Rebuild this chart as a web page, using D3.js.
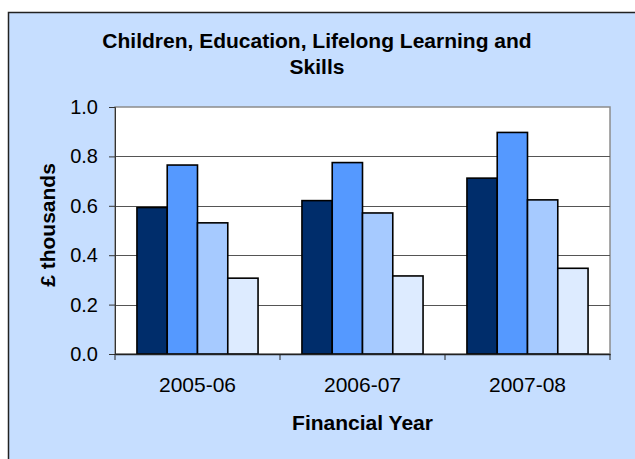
<!DOCTYPE html>
<html>
<head>
<meta charset="utf-8">
<script src="https://cdn.jsdelivr.net/npm/d3@7"></script>
<style>
    body { margin: 0; background: #ffffff; }
    text { font-family: "Liberation Sans", Arial, sans-serif; fill: #000; }
</style>
</head>
<body>
<svg class="barChart" width="635" height="459"></svg>
<script>
var years = ["2005-06", "2006-07", "2007-08"];
var seriesNames = ["s1", "s2", "s3", "s4"];
var s1 = [0.593, 0.621, 0.712];
var s2 = [0.765, 0.775, 0.897];
var s3 = [0.531, 0.571, 0.624];
var s4 = [0.307, 0.316, 0.347];
var yTicks = [0, 0.2, 0.4, 0.6, 0.8, 1.0];
var colors = ["#002d6b", "#5599ff", "#a6caff", "#ddebff"];

var allSeries = [s1, s2, s3, s4];

renderGraph();

function renderGraph() {
    var svg = d3.select(".barChart"),
        margin = { top: 107, right: 25, bottom: 105, left: 115 },
        width = +svg.attr("width") - margin.left - margin.right,
        height = +svg.attr("height") - margin.top - margin.bottom;

    // background panel with border (clipped by the picture at right and bottom)
    svg.append("rect")
        .attr("x", 8.5)
        .attr("y", 12.5)
        .attr("width", 640)
        .attr("height", 460)
        .attr("fill", "#c6deff")
        .attr("stroke", "#222")
        .attr("stroke-width", 1.5);

    var x = d3.scaleBand().domain(years).range([0, width]).paddingInner(0).paddingOuter(0);
    var inner = d3.scaleBand().domain(seriesNames)
        .range([0, x.bandwidth()])
        .paddingInner(0)
        .paddingOuter(0.725);
    var y = d3.scaleLinear().domain([0, 1]).range([height, 0]);

    var g = svg.append("g")
        .attr("transform", "translate(" + margin.left + "," + margin.top + ")");

    g.append("rect")
        .attr("width", width)
        .attr("height", height)
        .attr("fill", "#fff")
        .attr("stroke", "#8c8c8c")
        .attr("stroke-width", 1.5);

    g.selectAll(".grid")
        .data(yTicks.filter(function (d) { return d > 0 && d < 1; }))
        .enter().append("line")
        .attr("x1", 0)
        .attr("x2", width)
        .attr("y1", function (d) { return Math.round(y(d)) + 0.5; })
        .attr("y2", function (d) { return Math.round(y(d)) + 0.5; })
        .attr("stroke", "#555")
        .attr("stroke-width", 1);

    allSeries.forEach(function (vals, si) {
        g.selectAll(".bar" + si)
            .data(vals)
            .enter().append("rect")
            .attr("x", function (d, i) { return x(years[i]) + inner(seriesNames[si]); })
            .attr("y", function (d) { return y(d); })
            .attr("width", inner.bandwidth())
            .attr("height", function (d) { return height - y(d); })
            .attr("fill", colors[si])
            .attr("stroke", "#000")
            .attr("stroke-width", 1.6);
    });

    var yAxis = g.append("g")
        .call(d3.axisLeft(y).tickValues(yTicks).tickSize(6).tickPadding(11)
            .tickFormat(d3.format(".1f")));
    yAxis.select(".domain").attr("stroke", "#333");
    yAxis.selectAll(".tick line").attr("stroke", "#333");
    yAxis.selectAll("text")
        .style("font-family", "'Liberation Sans', Arial, sans-serif")
        .style("font-size", "20px")
        .attr("fill", "#000");

    var xAxis = g.append("g")
        .attr("transform", "translate(0," + height + ")")
        .call(d3.axisBottom(x).tickSize(0).tickPadding(23));
    xAxis.select(".domain").attr("stroke", "#222").attr("stroke-width", 1.5);
    xAxis.selectAll("text")
        .style("font-family", "'Liberation Sans', Arial, sans-serif")
        .style("font-size", "21px")
        .attr("fill", "#000");

    // category separator ticks
    g.selectAll(".xtick")
        .data(years.concat(["end"]))
        .enter().append("line")
        .attr("x1", function (d, i) { return i * x.step(); })
        .attr("x2", function (d, i) { return i * x.step(); })
        .attr("y1", height)
        .attr("y2", height + 6)
        .attr("stroke", "#222");

    svg.append("text")
        .attr("text-anchor", "middle")
        .style("font-weight", "bold")
        .style("font-size", "21px")
        .selectAll("tspan")
        .data(["Children, Education, Lifelong Learning and", "Skills"])
        .enter().append("tspan")
        .attr("x", 317)
        .attr("y", function (d, i) { return 48 + i * 26; })
        .text(function (d) { return d; });

    svg.append("text")
        .attr("transform", "translate(55,225) rotate(-90)")
        .attr("text-anchor", "middle")
        .style("font-weight", "bold")
        .style("font-size", "21px")
        .text("£ thousands");

    svg.append("text")
        .attr("x", margin.left + width / 2)
        .attr("y", 430)
        .attr("text-anchor", "middle")
        .style("font-weight", "bold")
        .style("font-size", "21px")
        .text("Financial Year");
}
</script>
</body>
</html>
